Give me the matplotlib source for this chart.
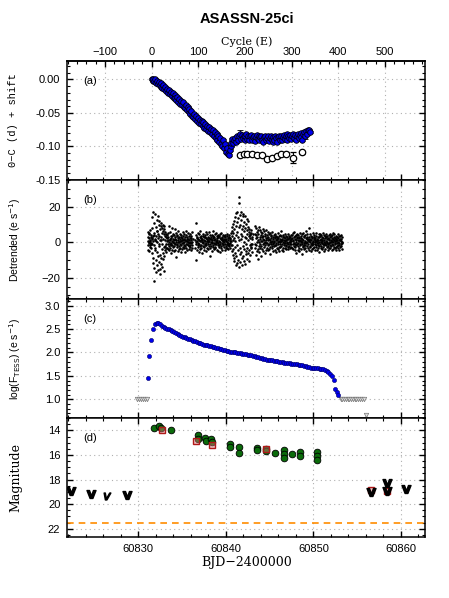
import numpy as np
import matplotlib
matplotlib.use("Agg")
from matplotlib import pyplot as plt
from matplotlib.ticker import MultipleLocator, FormatStrFormatter

plt.rcParams["font.family"] = ["Liberation Sans", "DejaVu Sans"]
plt.rcParams["axes.linewidth"] = 1.1

# ---- ephemeris used for the cycle axis
T0 = 60831.53
PERIOD = 0.0533

# ---- (a) O-C diagram, cycle numbers and O-C in units of 0.001 d
E_blue = [0, 2, 3, 5, 7, 9, 11, 13, 15, 17, 19, 21, 23, 25, 27, 29, 31, 33, 35, 37,
          39, 41, 43, 45, 47, 49, 51, 53, 55, 57, 59, 61, 63, 65, 67, 69, 71, 73, 75, 77,
          79, 81, 83, 85, 87, 89, 91, 93, 95, 97, 99, 101, 103, 105, 107, 109, 111, 113, 115, 117,
          119, 121, 123, 125, 127, 129, 131, 133, 135, 137, 139, 141, 143, 145, 147, 149, 151, 153, 155, 157,
          159, 161, 163, 165, 167, 169, 171, 173, 175, 177, 179, 181, 183, 185, 187, 189, 191, 193, 195, 197,
          199, 201, 203, 205, 207, 209, 211, 213, 215, 217, 219, 221, 223, 225, 227, 229, 231, 233, 235, 237,
          239, 241, 243, 245, 247, 249, 251, 253, 255, 257, 259, 261, 263, 265, 267, 269, 271, 273, 275, 277,
          279, 281, 283, 285, 287, 289, 291, 293, 295, 297, 299, 301, 303, 305, 307, 309, 311, 313, 315, 317,
          319, 321, 323, 325, 327, 329, 331, 333, 335, 337, 339]
OC_blue = [0, -2, 1, -3, 0, -5, -2, -7, -4, -9, -5, -11, -13, -9, -15, -12, -17, -14, -20, -16,
           -22, -19, -25, -21, -27, -23, -28, -31, -26, -33, -29, -36, -32, -38, -34, -41, -42, -38, -46, -41,
           -48, -44, -52, -47, -54, -56, -51, -59, -54, -62, -57, -65, -60, -67, -62, -70, -64, -72, -67, -74,
           -69, -77, -71, -79, -74, -82, -76, -85, -79, -88, -82, -91, -85, -94, -88, -96, -99, -91, -103, -96,
           -108, -102, -111, -113, -106, -99, -95, -89, -95, -90, -87, -93, -85, -90, -84, -82, -89, -83, -88, -84,
           -90, -85, -82, -89, -84, -91, -85, -83, -90, -86, -84, -92, -86, -83, -89, -85, -91, -86, -84, -90,
           -93, -86, -84, -91, -87, -85, -92, -87, -84, -90, -94, -86, -91, -85, -88, -93, -86, -84, -90, -85,
           -91, -86, -83, -89, -85, -82, -90, -84, -88, -83, -89, -84, -81, -88, -83, -91, -85, -82, -88, -83,
           -80, -86, -91, -81, -78, -84, -77, -81, -76, -75, -78]
E_open = [189, 197, 205, 214, 226, 236, 248, 258, 268, 278, 288, 303, 322]
OC_open = [-113, -112, -112, -111, -113, -113, -119, -117, -115, -112, -111, -117, -109]
OC_open_err = [2, 2, 2, 2, 2, 2, 2, 2, 2, 2, 2, 8, 2]

# ---- (b) detrended TESS light curve, units of 0.1 e/s, one list per stretch
DET_SPANS = [(60831.07, 60833.2), (60833.25, 60836.2), (60836.5, 60840.6),
             (60840.65, 60843.05), (60843.3, 60847.5), (60847.55, 60853.3)]
DET_A = """31 -42 8 57 -19 3 44 -51 22 -7 49 -28 12 66 -16 5 -33 27 -4 38 -12 15
82 -61 24 139 -13 -118 35 4 168 -92 41 -221 53 -17 -143 107 12 -31 157 -44 19 -169 33 -102 86 6
-54 127 61 -131 2 63 -78 148 23 -158 45 -113 -9 97 -24 118 36 -149 71 -72 14 -178 29 92 -121 9
109 -87 52 -38 81 -139 -12 64 -63 98 -97 17 -162 74 -28 43 -81 93 -21 37 -46 11 58 -35 26 -8 47 -55"""
DET_B = """23 -31 4 42 -12 51 -38 13 29 -24 88 2 -47 18 -9 57 -33 11 36 -61 -3 21 -18 79 7 -42 32 -14
1 48 -27 16 -52 9 39 -21 -6 71 -11 27 -43 19 -82 12 -2 53 -17 34 -8 41 -29 3 24 -49 62 14 -23 31
-37 -1 17 -13 46 -34 8 38 -19 6 -58 28 13 -7 22 -41 55 -4 -26 33 10 -36 43 -15 19 2 -53 27 11 -24
64 -9 5 39 -31 18 -12 7 -44 29 -2 51 -18 15 -6 35 -22 9 -39 25 -14 47 1 -28 37 -5 12 -46 21 3 -17
58 -33 16"""
DET_C = """12 -34 41 -9 108 3 -101 22 -43 31 7 -18 52 -29 -4 19 -12 43 -53 14 28 -23 5 61 -38 9 24 -15
-31 37 2 18 -62 11 33 -21 48 -7 -1 -42 26 13 -27 39 -17 4 31 -11 54 -48 21 -3 -19 8 44 -34 17 -8 1
29 -41 12 56 -24 6 23 -32 -79 15 38 -13 27 -21 -2 19 -51 9 42 -6 3 34 -28 22 -16 63 11 -39 -4 31
-12 17 -25 46 -33 8 -1 49 -9 24 -44 36 2 13 -18 41 -52 26 -3 -14 32 -27 7 21 -58 1 44 -11 18 -23
53 -35 12 -5 29 -43 23 -10 38 4 -19 9 33 -29 16 -2 -47 42 14 -8 27 -36 5 19 -21 47 -13 2 -31 35 -6
24 -17 11 -40 28 -9 39 -24 6 15 -33 22 -4 51 -15 8"""
DET_D = """32 -48 61 -17 83 -72 14 104 -39 52 -88 121 23 -109 71 -28 142 -61 4 93 -127 38 163 -81 112
-19 -118 58 171 -47 27 134 -98 252 84 -139 221 11 -69 153 -34 97 -113 46 168 -58 124 17 -92 73
-131 36 146 -22 88 -79 159 3 -104 62 113 -41 29 -121 81 149 -8 -67 102 21 -52 128 -31 69 -93 43
118 -63 12 87 -108 34 57 -44 76 -19 48 -71 24 39 -27 66 -12 53 -36 18 -58 31 -9 44"""
DET_E = """48 -32 88 -9 21 -71 39 79 -18 3 57 -49 28 -97 68 12 -41 46 -23 86 -2 -58 31 17 -34 66 -11 42
-77 8 59 -22 4 51 -38 27 74 -13 19 -52 37 -3 -29 61 14 -19 48 -63 33 1 22 -44 69 -7 11 38 -31 -4
24 -47 57 -16 29 9 -12 43 -39 18 2 53 -27 13 -68 34 -1 -9 41 23 -21 58 -33 7 -3 31 -49 16 -12 38 6
-24 2 47 -42 21 27 -14 -57 11 36 -6 -18 29 -31 14 19 -9 52 -37 3 22 -26 32 8 -51 41 -2 -13 17 -28
62 9 -21 4 34 -43 18 -11 13 39 -32 1 26 -48 28 -7 12 -19 44 -4 -33 21 6 -16 37 -24 9 -38 15 27 -6
3 -29 46 -13 19 -41 24 1 -22 35 -8 11 -35 29 -2 17 -26 42 -11 5"""
DET_F = """23 -31 42 -8 4 51 -39 12 27 -22 -3 58 -47 18 -13 33 -28 9 41 -17 2 -61 24 47 -11 31 -42 -4
14 -23 38 -34 21 6 -52 29 11 -9 49 -18 3 22 -41 34 8 -12 -69 43 1 17 -27 13 52 -21 -5 32 -14 -38
26 7 -32 39 2 -19 61 -7 24 -48 15 28 -2 -24 44 -31 9 19 -13 4 81 -43 27 12 -22 48 -1 -29 18 -8 37
-51 11 -4 29 -17 21 -39 6 53 -12 3 -33 31 16 -26 42 -9 -1 -47 23 13 -28 34 5 -19 49 -6 8 -42 17 -3
31 -36 12 -14 43 -21 2 26 -58 34 9 -11 47 -32 -2 19 -24 38 -7 14 -41 29 4 21 -29 51 -13 1 -18 39
11 -49 25 -5 -12 32 -37 7 28 -16 44 -3 16 -27 3 36 -43 22 -9 -21 41 -6 18 -34 9 47 -14 2 -31 27 -1
33 -23 12 -47 39 6 -8 24 -38 15 52 -19 -2 28 -26 11 43 -11 4 -35 21 -4 36 -29 8 17 -44 31 -7 13
-22 46 -15 1 -33 25 9 -18 37 -3 -42 19 14 -27 33 -10 5 41 -24 18 -6 -37 28 2"""
DET_LISTS = [DET_A, DET_B, DET_C, DET_D, DET_E, DET_F]

# ---- (c) binned TESS flux, log10(e/s)
rise_t = [60831.06, 60831.25, 60831.43, 60831.66, 60831.93, 60832.10]
rise_f = [1.45, 1.93, 2.26, 2.49, 2.61, 2.63]
plateau_span = (60832.3, 60851.7)  # 0.2 d bins
plateau_f = [2.62, 2.60, 2.57, 2.55, 2.53, 2.51, 2.49, 2.47, 2.45, 2.43,
             2.41, 2.39, 2.38, 2.36, 2.34, 2.33, 2.31, 2.29, 2.28, 2.26,
             2.25, 2.24, 2.22, 2.21, 2.20, 2.19, 2.17, 2.16, 2.15, 2.14,
             2.13, 2.12, 2.11, 2.10, 2.09, 2.08, 2.07, 2.06, 2.05, 2.04,
             2.03, 2.02, 2.02, 2.01, 2.00, 1.99, 1.99, 1.98, 1.97, 1.97,
             1.96, 1.95, 1.95, 1.94, 1.93, 1.92, 1.91, 1.90, 1.89, 1.88,
             1.87, 1.86, 1.85, 1.85, 1.84, 1.83, 1.82, 1.82, 1.81, 1.80,
             1.80, 1.79, 1.78, 1.78, 1.77, 1.77, 1.76, 1.76, 1.75, 1.75,
             1.74, 1.73, 1.73, 1.72, 1.71, 1.70, 1.69, 1.67, 1.66, 1.66,
             1.66, 1.66, 1.65, 1.65, 1.64, 1.63, 1.61, 1.59]
fade_t = [60851.90, 60852.10, 60852.30, 60852.50, 60852.65, 60852.85]
fade_f = [1.55, 1.49, 1.41, 1.23, 1.16, 1.09]
lim_t = [60829.80, 60830.05, 60830.30, 60830.55, 60830.80, 60831.00,
         60853.10, 60853.30, 60853.50, 60853.70, 60853.90, 60854.10, 60854.30,
         60854.50, 60854.70, 60854.90, 60855.10, 60855.30, 60855.50, 60855.75, 60856.05]
lim_f = [1.0, 1.0, 1.0, 1.0, 1.0, 1.0,
         1.0, 1.0, 1.0, 1.0, 1.0, 1.0, 1.0,
         1.0, 1.0, 1.0, 1.0, 1.0, 1.0, 1.0, 0.66]

# ---- (d) ground-based photometry
green_t = [60831.78, 60832.40, 60832.55, 60833.75, 60836.78, 60836.78, 60837.58, 60837.78,
           60838.35, 60838.40, 60840.42, 60840.42, 60841.48, 60841.48, 60843.58, 60843.58,
           60844.55, 60844.60, 60845.65, 60846.65, 60846.65, 60846.65, 60847.60, 60848.50,
           60848.50, 60850.45, 60850.45, 60850.45]
green_m = [13.80, 13.65, 13.80, 13.98, 14.40, 14.72, 14.60, 14.90,
           14.72, 14.92, 15.12, 15.38, 15.32, 15.84, 15.42, 15.58,
           15.48, 15.68, 15.84, 15.58, 15.92, 16.25, 15.88, 15.75,
           16.08, 15.78, 16.10, 16.42]
red_t = [60832.72, 60836.65, 60838.42, 60844.64, 60856.60, 60858.40]
red_m = [13.95, 14.85, 15.15, 15.55, 18.85, 18.90]
ul_t = [60822.35, 60824.60, 60828.70, 60856.60, 60858.40, 60858.40, 60860.60]
ul_m = [18.95, 19.20, 19.25, 19.00, 18.25, 18.95, 18.80]
ul_faint_t = [60826.40]
ul_faint_m = [19.30]
ZERO_LEVEL = 21.5


def e_to_bjd(e):
    return T0 + PERIOD * np.asarray(e)


def bjd_to_e(t):
    return (np.asarray(t) - T0) / PERIOD


grid_kw = dict(color="#b0b0b0", linestyle=(0, (1, 3)), linewidth=0.8)

fig, ax = plt.subplots(nrows=4, sharex=True, figsize=(4.49, 5.98), dpi=100)
plt.subplots_adjust(left=0.15, right=0.9466, bottom=0.1015, top=0.8985, hspace=0)

# (a)
ax[0].errorbar(e_to_bjd(E_open), np.array(OC_open) / 1000.0, yerr=np.array(OC_open_err) / 1000.0,
               fmt="o", ms=4.6, mfc="white", mec="black", mew=0.9, ecolor="black",
               elinewidth=0.7, capsize=2, zorder=3)
blue_err = np.full(len(E_blue), 0.0015)
blue_err[E_blue.index(189)] = 0.006
blue_err[E_blue.index(329)] = 0.005
ax[0].errorbar(e_to_bjd(E_blue), np.array(OC_blue) / 1000.0, yerr=blue_err,
               fmt="o", ms=4.0, mfc="#0000ee", mec="black", mew=0.6, ecolor="black",
               elinewidth=0.6, capsize=2, zorder=4)
ax[0].set_ylim(-0.15, 0.028)
ax[0].yaxis.set_major_locator(MultipleLocator(0.05))
ax[0].yaxis.set_minor_locator(MultipleLocator(0.01))
ax[0].yaxis.set_major_formatter(FormatStrFormatter("%.2f"))
ax[0].yaxis.grid(True, **grid_kw)
top = ax[0].secondary_xaxis("top", functions=(bjd_to_e, e_to_bjd))
top.xaxis.set_major_locator(MultipleLocator(100))
top.xaxis.set_minor_locator(MultipleLocator(20))
top.tick_params(which="both", direction="in", labelsize=8, pad=2.5)
top.tick_params(which="major", length=4, width=1)
top.tick_params(which="minor", length=2.5, width=0.8)
for c in range(-100, 600, 100):
    ax[0].axvline(e_to_bjd(c), zorder=0, **grid_kw)
ax[0].set_ylabel("0\u2212C (d) + shift", family=["Liberation Mono", "DejaVu Sans Mono"], fontsize=7.5)
ax[0].yaxis.set_label_coords(-0.137, 0.5)

# (b)
for (t1, t2), s in zip(DET_SPANS, DET_LISTS):
    vals = np.array(s.split(), dtype=float) / 10.0
    ax[1].plot(np.linspace(t1, t2, len(vals)), vals, "o", ms=1.85, mew=0, color="black", zorder=3)
ax[1].set_ylim(-32, 35)
ax[1].yaxis.set_major_locator(MultipleLocator(20))
ax[1].yaxis.set_minor_locator(MultipleLocator(5))
ax[1].set_ylabel("Detrended (e s$^{-1}$)", fontsize=7.5)
ax[1].yaxis.set_label_coords(-0.123, 0.5)

# (c)
ax[2].plot(lim_t, lim_f, "v", ms=3.2, mfc="#dddddd", mec="#777777", mew=0.5, zorder=3)
flux_t = np.concatenate([rise_t, np.linspace(plateau_span[0], plateau_span[1], len(plateau_f)), fade_t])
flux_f = np.concatenate([rise_f, plateau_f, fade_f])
ax[2].plot(flux_t, flux_f, "o", ms=3.0, mfc="#0000ee", mec="#000066", mew=0.4, zorder=4)
ax[2].set_ylim(0.6, 3.14)
ax[2].yaxis.set_major_locator(MultipleLocator(0.5))
ax[2].yaxis.set_minor_locator(MultipleLocator(0.1))
ax[2].set_ylabel("log(F$_{\\rm TESS}$) (e s$^{-1}$)", fontsize=7.5)
ax[2].yaxis.set_label_coords(-0.123, 0.5)

# (d)
ax[3].axhline(ZERO_LEVEL, color="darkorange", ls=(0, (4, 3)), lw=1.2, zorder=2)
ax[3].plot(green_t, green_m, "o", ms=4.8, mfc="#0b6b0b", mec="black", mew=0.6, zorder=3)
ax[3].plot(red_t, red_m, "s", ms=4.4, mfc=(0.85, 0.45, 0.45, 0.45), mec="#b01818", mew=1.0, zorder=4)
ax[3].plot(ul_t, ul_m, ls="none", marker=r"$\mathbf{v}$", ms=6.5, color="black", zorder=5)
ax[3].plot(ul_faint_t, ul_faint_m, ls="none", marker=r"$v$", ms=5, color="black", zorder=5)
ax[3].set_ylim(22.7, 13.0)
ax[3].yaxis.set_major_locator(MultipleLocator(2))
ax[3].yaxis.set_minor_locator(MultipleLocator(0.5))
ax[3].set_ylabel("Magnitude", family=["DejaVu Serif"], fontsize=9)
ax[3].yaxis.set_label_coords(-0.125, 0.5)

ax[3].set_xlim(60821.9, 60862.75)
ax[3].xaxis.set_major_locator(MultipleLocator(10))
ax[3].xaxis.set_minor_locator(MultipleLocator(2))
ax[3].xaxis.set_major_formatter(FormatStrFormatter("%d"))

for i, a in enumerate(ax):
    a.tick_params(which="both", direction="in", right=True, top=(i > 0), labelsize=8)
    a.tick_params(axis="y", pad=5)
    a.tick_params(axis="x", pad=5)
    a.tick_params(which="major", length=4, width=1)
    a.tick_params(which="minor", length=2.5, width=0.8)
    if i > 0:
        a.grid(True, which="major", **grid_kw)
    a.set_axisbelow(True)
    a.text(0.045, 0.83, "(" + "abcd"[i] + ")", transform=a.transAxes, fontsize=8, va="center")

fig.text(0.549, 0.969, "ASASSN-25ci", ha="center", va="center", fontsize=10.5, fontweight="bold")
fig.text(0.549, 0.930, "Cycle (E)", ha="center", va="center", fontsize=8, family=["DejaVu Serif"])
fig.text(0.549, 0.0597, "BJD\u22122400000", ha="center", va="center", fontsize=9, family=["DejaVu Serif"])

fig.savefig("out.png", dpi=100)
